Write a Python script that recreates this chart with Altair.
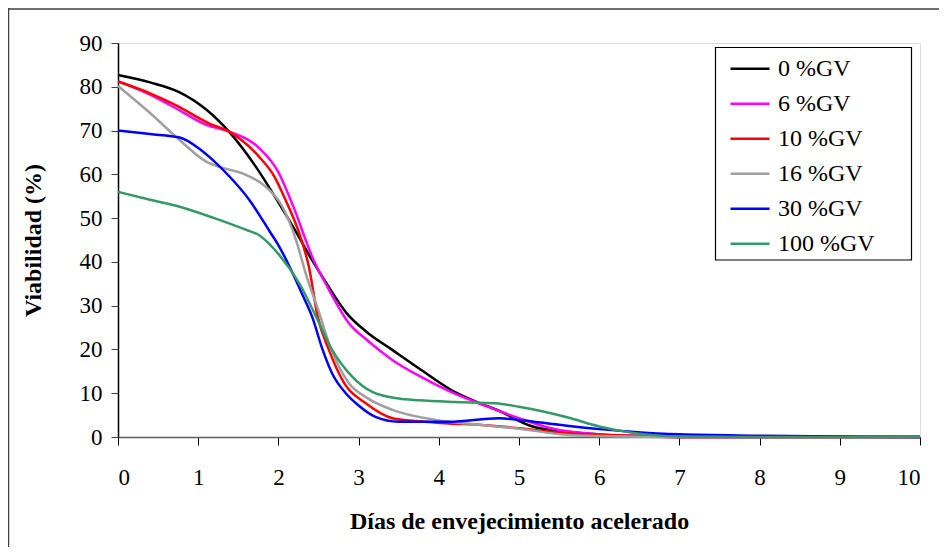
import altair as alt
import pandas as pd

# ---------------- data ----------------
series_names = ["0 %GV", "6 %GV", "10 %GV", "16 %GV", "30 %GV", "100 %GV"]
series_colors = ["#000000", "#FF00FF", "#FF0000", "#A0A0A0", "#0000FF", "#339966"]

x_ticks = [0, 1, 2, 3, 4, 5, 6, 7, 8, 9, 10]
y_ticks = [0, 10, 20, 30, 40, 50, 60, 70, 80, 90]

days_0 = [0, 0.4, 0.75, 1.1, 1.4, 1.72, 2.0, 2.2, 2.42, 2.62, 2.85, 3.1, 3.42, 3.75, 4.15, 4.5, 4.75, 5.15, 5.6, 6.0, 6.5, 7, 8, 9, 10]
vals_0 = [82.7, 81.0, 78.9, 74.8, 69.4, 61.7, 53.6, 47.5, 40.4, 34.5, 28.3, 24.0, 19.9, 15.7, 10.8, 7.8, 6.0, 2.5, 1.2, 0.6, 0.2, 0, 0, 0, 0]

days_6 = [0, 0.4, 0.72, 1.1, 1.4, 1.76, 2.0, 2.1, 2.2, 2.42, 2.62, 2.88, 3.1, 3.42, 3.75, 4.15, 4.6, 5.0, 5.4, 6.0, 6.5, 7, 8, 9, 10]
vals_6 = [81.3, 78.2, 75.1, 71.3, 69.7, 66.0, 60.5, 56.5, 52.0, 41.2, 34.0, 26.0, 22.2, 17.6, 14.0, 10.3, 7.0, 4.3, 2.0, 0.6, 0.2, 0, 0, 0, 0]

days_10 = [0, 0.4, 0.72, 1.14, 1.39, 1.76, 1.95, 2.09, 2.26, 2.38, 2.49, 2.63, 2.82, 3.09, 3.42, 3.75, 4.13, 4.5, 5.0, 5.5, 6.0, 6.5, 7, 8, 9, 10]
vals_10 = [81.2, 78.5, 75.8, 71.6, 69.7, 64.0, 59.5, 54.1, 46.5, 38.9, 27.5, 19.9, 12.3, 7.7, 4.3, 3.6, 3.1, 2.8, 2.0, 1.0, 0.5, 0.2, 0, 0, 0, 0]

days_16 = [0, 0.4, 0.77, 1.1, 1.26, 1.55, 1.84, 2.05, 2.22, 2.34, 2.51, 2.63, 2.88, 3.1, 3.42, 3.96, 4.5, 5.0, 5.58, 6.0, 7, 8, 9, 10]
vals_16 = [80.2, 74.0, 67.8, 62.9, 61.7, 60.2, 57.2, 52.6, 45.0, 37.4, 28.3, 21.4, 12.3, 9.0, 6.2, 3.9, 2.8, 1.9, 0.5, 0.2, 0, 0, 0, 0]

days_30 = [0, 0.4, 0.77, 1.01, 1.18, 1.39, 1.64, 1.89, 2.01, 2.15, 2.3, 2.42, 2.55, 2.67, 2.84, 3.0, 3.21, 3.5, 4.13, 4.75, 5.0, 5.5, 6.0, 6.4, 7, 8, 9, 10]
vals_30 = [70.0, 69.2, 68.4, 65.9, 63.3, 59.5, 54.1, 47.0, 43.5, 38.5, 32.5, 27.5, 20.0, 14.5, 10.0, 7.2, 4.6, 3.5, 3.5, 4.3, 3.9, 2.8, 1.8, 1.2, 0.6, 0.3, 0.1, 0]

days_100 = [0, 0.4, 0.77, 1.2, 1.6, 1.76, 2.01, 2.26, 2.47, 2.67, 2.92, 3.17, 3.5, 3.75, 4.2, 4.71, 5.0, 5.6, 6.0, 6.4, 7, 8, 9, 10]
vals_100 = [56.0, 54.2, 52.6, 50.0, 47.3, 46.1, 41.6, 35.1, 27.5, 19.9, 13.8, 10.3, 8.8, 8.4, 8.0, 7.7, 6.9, 4.5, 2.4, 1.0, 0.1, 0, 0, 0]

all_days = [days_0, days_6, days_10, days_16, days_30, days_100]
all_vals = [vals_0, vals_6, vals_10, vals_16, vals_30, vals_100]

rows = []
for k, (name, ds, vs) in enumerate(zip(series_names, all_days, all_vals)):
    for d, v in zip(ds, vs):
        rows.append({"serie": name, "dias": d, "viab": v, "k": k})
df = pd.DataFrame(rows)

FONT = "Liberation Serif"

lines = alt.Chart(df).mark_line(interpolate="monotone", strokeWidth=2.5).encode(
    x=alt.X(
        "dias:Q",
        scale=alt.Scale(domain=[0, 10], nice=False, zero=False),
        axis=alt.Axis(
            values=x_ticks,
            title="Días de envejecimiento acelerado",
            grid=False,
            domainColor="#606060",
            domainWidth=1.5,
            tickColor="#000000",
            tickSize=8,
            labelPadding=21,
            labelFont=FONT,
            labelFontSize=23,
            labelColor="#000000",
            titleFont=FONT,
            titleFontSize=24,
            titleFontWeight="bold",
            titleColor="#000000",
            titleBaseline="alphabetic",
            titleY=91,
        ),
    ),
    y=alt.Y(
        "viab:Q",
        scale=alt.Scale(domain=[0, 90], nice=False),
        axis=alt.Axis(
            values=y_ticks,
            title="Viabilidad (%)",
            grid=False,
            domainColor="#000000",
            domainWidth=1.5,
            tickColor="#404040",
            tickSize=7,
            labelPadding=9,
            labelFont=FONT,
            labelFontSize=23,
            labelColor="#000000",
            titleFont=FONT,
            titleFontSize=24,
            titleFontWeight="bold",
            titleColor="#000000",
            titleX=-73,
        ),
    ),
    color=alt.Color(
        "serie:N",
        scale=alt.Scale(domain=series_names, range=series_colors),
        legend=alt.Legend(
            orient="none",
            legendX=597,
            legendY=1.7,
            title=None,
            symbolType="stroke",
            symbolSize=1521,
            symbolStrokeWidth=2.5,
            symbolOffset=11,
            labelFont=FONT,
            labelFontSize=24,
            labelColor="#000000",
            labelOffset=7,
            rowPadding=2,
            padding=3,
        ),
    ),
    detail="k:N",
)

frame_df = pd.DataFrame({"a": [0]})
legend_box = alt.Chart(frame_df).mark_rect(
    fill="#FFFFFF", stroke="#000000", strokeWidth=1.2
).encode(
    x=alt.value(597.5), x2=alt.value(793.5), y=alt.value(4.5), y2=alt.value(217)
)
left_border = alt.Chart(frame_df).mark_rule(color="#404040", strokeWidth=1.5).encode(
    x=alt.value(-109.5), y=alt.value(-35), y2=alt.value(504)
)
top_border = alt.Chart(frame_df).mark_rule(color="#404040", strokeWidth=1.5).encode(
    x=alt.value(-110), x2=alt.value(821), y=alt.value(-34)
)

chart = alt.layer(legend_box, lines, left_border, top_border).properties(
    width=802,
    height=394,
    padding={"left": 110, "top": 35, "right": 19, "bottom": 110},
    autosize=alt.AutoSizeParams(type="none"),
).configure_view(stroke="#808080", strokeWidth=1).configure(background="#FFFFFF")

chart.save("out.html", embed_options={"renderer": "svg", "actions": False})
